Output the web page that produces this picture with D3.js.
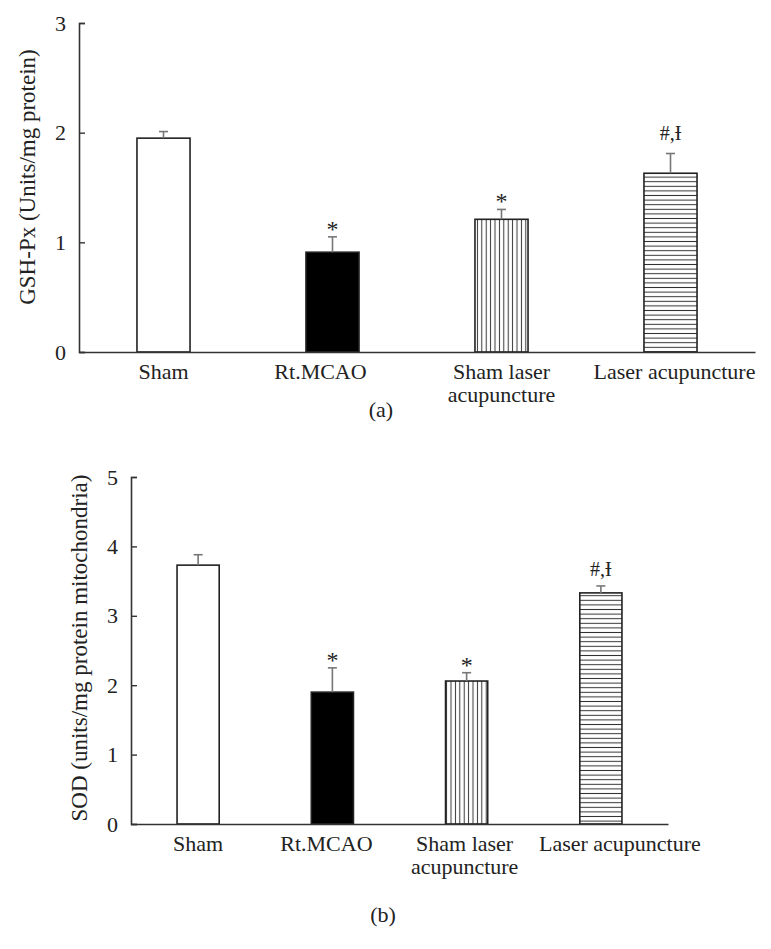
<!DOCTYPE html>
<html><head><meta charset="utf-8">
<script src="https://cdn.jsdelivr.net/npm/d3@7/dist/d3.min.js"></script>
<style>
body{margin:0;background:#fff;}
text{font-family:"Liberation Serif","Times New Roman",serif;fill:#222;}
</style></head>
<body><svg id="c" width="771" height="949"></svg>
<script>
const categories = ["Sham", "Rt.MCAO", "Sham laser|acupuncture", "Laser acupuncture"];
const fills = ["white", "black", "vert", "horiz"];
const annotations = ["", "*", "*", "#,Ɨ"];

const gshValues = [1.95, 0.91, 1.21, 1.63];
const gshErrors = [0.06, 0.14, 0.09, 0.18];
const gshTicks = [0, 1, 2, 3];

const sodValues = [3.73, 1.90, 2.06, 3.33];
const sodErrors = [0.15, 0.35, 0.12, 0.10];
const sodTicks = [0, 1, 2, 3, 4, 5];

const svg = d3.select("#c");
const defs = svg.append("defs");
const pv = defs.append("pattern").attr("id","vert").attr("patternUnits","userSpaceOnUse").attr("width",4.4).attr("height",10);
pv.append("rect").attr("width",4.4).attr("height",10).attr("fill","white");
pv.append("line").attr("x1",2.2).attr("x2",2.2).attr("y1",0).attr("y2",10).attr("stroke","#333").attr("stroke-width",1);
const ph = defs.append("pattern").attr("id","horiz").attr("patternUnits","userSpaceOnUse").attr("width",10).attr("height",4.6);
ph.append("rect").attr("width",10).attr("height",4.6).attr("fill","white");
ph.append("line").attr("y1",2.3).attr("y2",2.3).attr("x1",0).attr("x2",10).attr("stroke","#333").attr("stroke-width",1);

const FS = 22;

function panel(opt){
  const g = svg.append("g");
  const x = d3.scaleBand().domain(categories).range([opt.x0, opt.x1]).paddingInner(0.686).paddingOuter(0.343);
  const y = d3.scaleLinear().domain([0, opt.max]).range([opt.y0, opt.y1]);
  g.selectAll("rect.bar").data(opt.values).enter().append("rect")
    .attr("x",(d,i)=>x(categories[i])).attr("width",x.bandwidth())
    .attr("y",d=>y(d)).attr("height",d=>y(0)-y(d))
    .attr("fill",(d,i)=>fills[i]==="white"?"white":fills[i]==="black"?"black":`url(#${fills[i]})`)
    .attr("stroke","#222").attr("stroke-width",1.6);
  const eg = g.selectAll("g.err").data(opt.values).enter().append("g").attr("stroke","#777").attr("stroke-width",1.6);
  eg.append("line").attr("x1",(d,i)=>x(categories[i])+x.bandwidth()/2).attr("x2",(d,i)=>x(categories[i])+x.bandwidth()/2)
    .attr("y1",d=>y(d)).attr("y2",(d,i)=>y(d+opt.errors[i]));
  eg.append("line").attr("x1",(d,i)=>x(categories[i])+x.bandwidth()/2-4.5).attr("x2",(d,i)=>x(categories[i])+x.bandwidth()/2+4.5)
    .attr("y1",(d,i)=>y(d+opt.errors[i])).attr("y2",(d,i)=>y(d+opt.errors[i]));
  g.selectAll("text.ann").data(opt.values).enter().append("text")
    .attr("x",(d,i)=>x(categories[i])+x.bandwidth()/2)
    .attr("y",(d,i)=>y(d+opt.errors[i]) - (annotations[i]==="*"? 0 : opt.annGap))
    .attr("text-anchor","middle").attr("font-size",(d,i)=>annotations[i]==="*"?24:20)
    .text((d,i)=>annotations[i]);
  const ya = d3.axisLeft(y).tickValues(opt.ticks).tickSize(-6).tickPadding(13).tickFormat(d3.format("d"));
  const yg = g.append("g").attr("transform",`translate(${opt.x0},0)`).call(ya);
  yg.select(".domain").attr("stroke","#333").attr("stroke-width",1.6);
  yg.selectAll(".tick line").attr("stroke","#333").attr("stroke-width",1.4);
  yg.selectAll(".tick text").attr("font-size",FS).attr("font-family","Liberation Serif").attr("fill","#222");
  const xa = d3.axisBottom(x).tickSize(0).tickFormat("");
  const xg = g.append("g").attr("transform",`translate(0,${opt.y0})`).call(xa);
  xg.select(".domain").attr("stroke","#333").attr("stroke-width",1.6);
  categories.forEach((c,i)=>{
    const lines = c.split("|");
    const cx = x(c)+x.bandwidth()/2 + opt.labelDx[i];
    const t = g.append("text").attr("x", cx).attr("y", opt.y0+27)
      .attr("text-anchor","middle").attr("font-size",FS);
    lines.forEach((l,j)=>t.append("tspan").attr("x",cx).attr("dy",j?23:0).text(l));
  });
  g.append("text").attr("transform",`translate(${opt.x0-52},${opt.labelY}) rotate(-90)`)
    .attr("text-anchor","middle").attr("dy","0.35em").attr("font-size",23).text(opt.ylabel);
  g.append("text").attr("x",opt.tagX).attr("y",opt.tagY).attr("text-anchor","middle").attr("font-size",FS).text(opt.tag);
}

panel({values:gshValues, errors:gshErrors, ticks:gshTicks, max:3, x0:79, x1:755, y0:352, y1:23, labelY:177, annGap:14,
  labelDx:[0,-12,0,4],
  ylabel:"GSH-Px (Units/mg protein)", tag:"(a)", tagX:381, tagY:417});
panel({values:sodValues, errors:sodErrors, ticks:sodTicks, max:5, x0:131, x1:668, y0:824, y1:477, labelY:648, annGap:10,
  labelDx:[0,-6,-2,19],
  ylabel:"SOD (units/mg protein mitochondria)", tag:"(b)", tagX:383, tagY:922});
</script></body></html>
